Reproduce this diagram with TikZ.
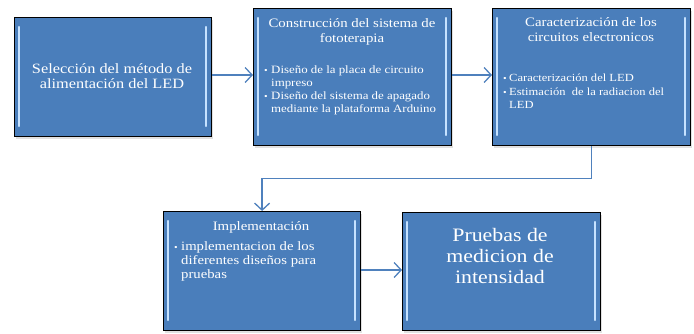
\documentclass[tikz,border=0pt]{standalone}
\usepackage{fontspec}
\setmainfont[FakeStretch=1.15]{Liberation Serif}
\usetikzlibrary{arrows.meta,calc}
\definecolor{boxblue}{HTML}{4A7EBB}
\definecolor{bevel}{HTML}{C6E2FF}
\definecolor{arrowblue}{HTML}{4F81BD}
\tikzset{
  box/.style={draw=black, line width=1.2pt, fill=boxblue, inner sep=0pt, anchor=north west},
  conn/.style={draw=arrowblue, line width=1.3pt, -{Straight Barb[length=7pt,width=15pt,line width=1.3pt]}},
  title/.style={text=white, align=center, font=\fontsize{12.9}{15}\selectfont, inner sep=0pt},
  bul/.style={text=white, align=left, inner sep=0pt, anchor=north west},
  big/.style={text=white, align=center, inner sep=0pt},
}
\newcommand{\bevelbox}[5]{% name, x, y, w, h
  \fill[black!35, opacity=0.35] (#2+2,#3+3) rectangle ++(#4,#5);
  \node[box, minimum width=#4 pt, minimum height=#5 pt] (#1) at (#2,#3) {};
  \draw[bevel, line width=2.2pt, line cap=round] (#2+5,#3+10) -- (#2+5,#3+#5-10);
  \draw[bevel, line width=2.2pt, line cap=round] (#2+#4-5,#3+10) -- (#2+#4-5,#3+#5-10);
}
\begin{document}
\begin{tikzpicture}[x=1pt,y=-1pt]
\useasboundingbox (0,0) rectangle (694,333);
\bevelbox{b1}{14}{17}{197}{119}
\bevelbox{b2}{253}{8}{198}{137}
\bevelbox{b3}{492}{8}{198}{137}
\bevelbox{b4}{163}{211}{197}{119}
\bevelbox{b5}{402}{212}{198}{118}

\node[big, font=\fontsize{14.2}{15.7}\selectfont] (t1) at (112,76) {Selección del método de\\alimentación del LED};

\node[title] (t2) at (352,32) {Construcción del sistema de\\fototerapia};
\node[bul, font=\fontsize{11.2}{13}\selectfont] (l2) at (264,66) {\makebox[7pt][l]{\small•}Diseño de la placa de circuito\\\hspace*{7pt}impreso\\\makebox[7pt][l]{\small•}Diseño del sistema de apagado\\\hspace*{7pt}mediante la plataforma Arduino};

\node[title] (t3) at (591,30) {Caracterización de los\\circuitos electronicos};
\node[bul, font=\fontsize{10.9}{13.5}\selectfont] (l3) at (503,74) {\makebox[6pt][l]{\small•}Caracterización del LED\\\makebox[6pt][l]{\small•}Estimación~ de la radiacion del\\\hspace*{6pt}LED};

\node[title] (t4) at (261,227) {Implementación};
\node[bul, font=\fontsize{12.8}{14.3}\selectfont] (l4) at (174,241) {\makebox[7pt][l]{\small•}implementacion de los\\\hspace*{7pt}diferentes diseños para\\\hspace*{7pt}pruebas};

\node[big, font=\fontsize{19}{21}\selectfont] (t5) at (500,256) {Pruebas de\\medicion de\\intensidad};

\draw[conn] (b1.east |- 0,75) -- (b2.west |- 0,75);
\draw[conn] (b2.east |- 0,75) -- (b3.west |- 0,75);
\draw[conn] (b3.south) -- ++(0,32) -| (b4.north);
\draw[conn] (b4.east |- 0,270) -- (b5.west |- 0,270);
\end{tikzpicture}
\end{document}
